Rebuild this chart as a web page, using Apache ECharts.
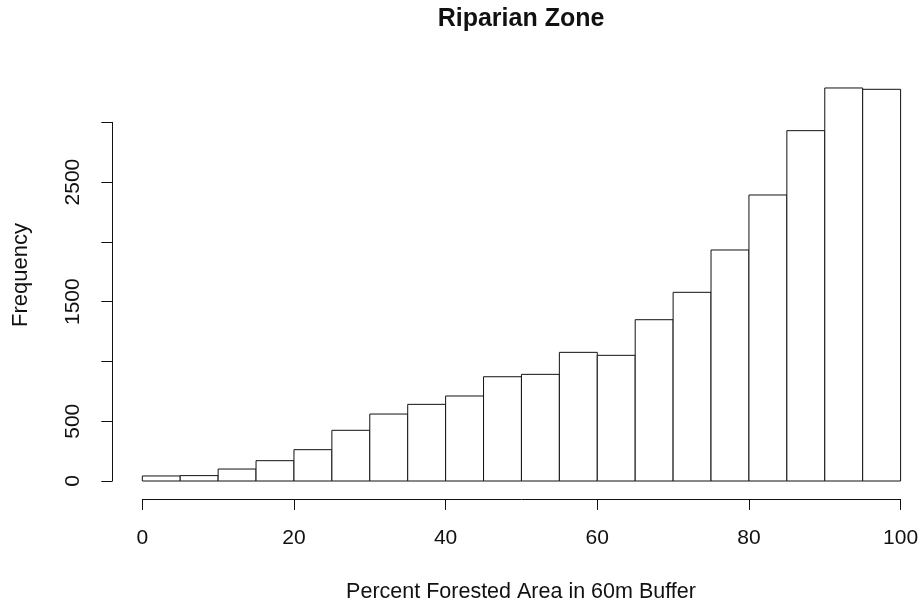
<!DOCTYPE html>
<html>
<head>
<meta charset="utf-8">
<script src="https://cdn.jsdelivr.net/npm/echarts@6/dist/echarts.min.js"></script>
<style>
html,body{margin:0;padding:0;background:#fff;}
#chart{width:921px;height:605px;}
</style>
</head>
<body>
<div id="chart"></div>
<script>
// Histogram bins (percent forested area) and counts
const binStarts = [0, 5, 10, 15, 20, 25, 30, 35, 40, 45, 50, 55, 60, 65, 70, 75, 80, 85, 90, 95];
const binEnds   = [5, 10, 15, 20, 25, 30, 35, 40, 45, 50, 55, 60, 65, 70, 75, 80, 85, 90, 95, 100];
const counts    = [42, 45, 100, 170, 262, 424, 560, 641, 711, 872, 892, 1076, 1051, 1349, 1578, 1932, 2392, 2930, 3287, 3276];
const yLabelsShown = [0, 500, 1500, 2500];
const titleText = 'Riparian Zone';
const xTitle = 'Percent Forested Area in 60m Buffer';
const yTitle = 'Frequency';

const FONT = '"Liberation Sans", Arial, sans-serif';
const INK = '#111';

const data = binStarts.map((s, i) => [s, binEnds[i], counts[i]]);

const chart = echarts.init(document.getElementById('chart'), null, {renderer: 'canvas'});
chart.setOption({
  animation: false,
  backgroundColor: '#fff',
  grid: {left: 142.3, right: 20.4, top: 122.3, bottom: 124, containLabel: false, outerBoundsMode: 'none'},
  xAxis: {
    type: 'value', min: 0, max: 100, interval: 20, offset: 18,
    axisLine: {show: true, onZero: false, lineStyle: {color: INK, width: 1}},
    axisTick: {show: true, length: 11, lineStyle: {color: INK, width: 1}},
    axisLabel: {show: true, fontSize: 21, fontFamily: FONT, color: INK, margin: 29, showMinLabel: true, showMaxLabel: true},
    splitLine: {show: false}
  },
  yAxis: {
    type: 'value', min: 0, max: 3000, interval: 500, offset: 30,
    axisLine: {show: true, onZero: false, lineStyle: {color: INK, width: 1}},
    axisTick: {show: true, length: 11, lineStyle: {color: INK, width: 1}},
    axisLabel: {
      show: true, rotate: 90, fontSize: 21, fontFamily: FONT, color: INK, margin: 29,
      showMinLabel: true, showMaxLabel: true,
      formatter: v => yLabelsShown.indexOf(v) >= 0 ? String(v) : ''
    },
    splitLine: {show: false}
  },
  series: [{
    type: 'custom',
    clip: false,
    encode: {x: [0, 1], y: 2},
    data: data,
    renderItem: function (params, api) {
      const p0 = api.coord([api.value(0), 0]);
      const p1 = api.coord([api.value(1), api.value(2)]);
      return {
        type: 'rect',
        shape: {x: p0[0], y: p1[1], width: p1[0] - p0[0], height: p0[1] - p1[1]},
        style: {fill: '#fff', stroke: INK, lineWidth: 1}
      };
    }
  }],
  graphic: [
    {type: 'text', x: 521, y: 19.6, style: {text: titleText, font: 'bold 25px ' + FONT, fill: INK, textAlign: 'center', textVerticalAlign: 'middle'}},
    {type: 'text', x: 521, y: 592.5, style: {text: xTitle, font: '21.5px ' + FONT, fill: INK, textAlign: 'center', textVerticalAlign: 'middle'}},
    {type: 'text', x: 21, y: 275, rotation: Math.PI / 2, style: {text: yTitle, font: '22px ' + FONT, fill: INK, textAlign: 'center', textVerticalAlign: 'middle'}}
  ]
});
</script>
</body>
</html>
